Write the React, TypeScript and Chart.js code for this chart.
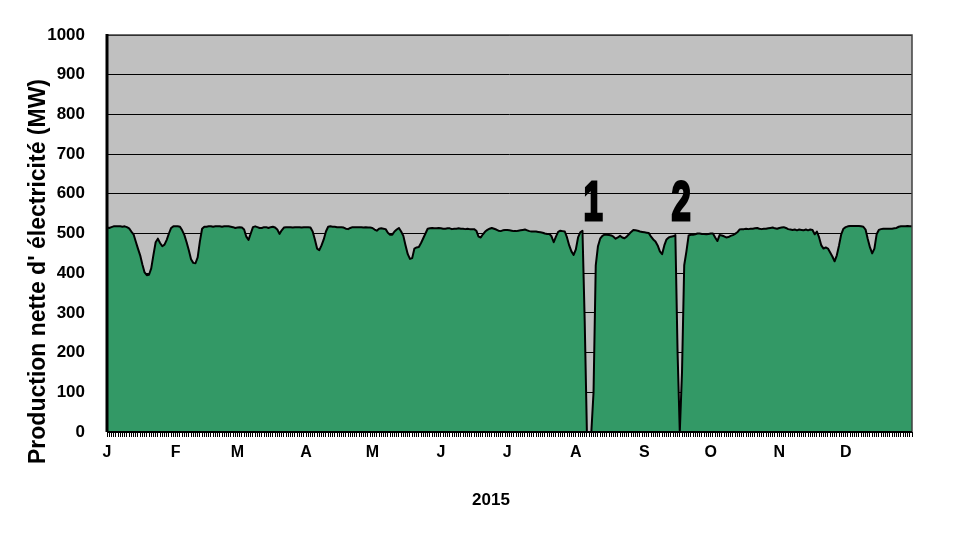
import React, { useEffect, useRef } from 'react';
import { Chart, registerables } from 'chart.js';

Chart.register(...registerables);

// ---- data (daily net electricity production, MW, 2015) ----
const monthLetters = ['J', 'F', 'M', 'A', 'M', 'J', 'J', 'A', 'S', 'O', 'N', 'D'];

const jan = [515, 514, 516, 518, 518, 518, 518, 517, 518, 516, 513, 505, 498, 480, 462, 445, 422, 402, 395, 396, 412, 446, 478, 487, 476, 468, 472, 484, 500, 514, 518];
const feb = [518, 518, 517, 508, 496, 478, 458, 435, 426, 425, 440, 480, 512, 517, 517, 518, 518, 517, 518, 518, 518, 517, 518, 518, 518, 517, 516, 514];
const mar = [515, 516, 515, 510, 492, 484, 500, 516, 518, 516, 514, 514, 516, 516, 514, 516, 517, 515, 510, 499, 508, 515, 516, 516, 516, 515, 516, 516, 516, 515, 516];
const apr = [516, 516, 515, 505, 485, 462, 458, 470, 485, 505, 517, 518, 517, 517, 516, 516, 516, 515, 512, 511, 514, 516, 516, 516, 516, 516, 515, 516, 515, 515];
const may = [514, 510, 507, 512, 513, 512, 511, 502, 497, 497, 505, 510, 514, 505, 494, 470, 448, 436, 438, 462, 465, 466, 476, 488, 500, 512, 513, 514, 513, 513, 514];
const jun = [513, 512, 512, 513, 513, 511, 512, 512, 513, 512, 512, 511, 512, 511, 511, 511, 507, 492, 490, 498, 505, 509, 512, 514, 512, 510, 507, 506, 508, 509];
const jul = [509, 508, 507, 506, 506, 507, 508, 509, 510, 508, 506, 505, 505, 505, 504, 503, 502, 500, 499, 499, 493, 478, 492, 504, 507, 506, 505, 490, 470, 455, 446];
const aug = [460, 490, 503, 507, 280, 0, 0, 0, 100, 420, 468, 487, 494, 497, 497, 496, 495, 492, 487, 490, 494, 490, 488, 492, 498, 504, 509, 508, 507, 505, 504];
const sep = [503, 502, 501, 492, 485, 480, 470, 455, 448, 470, 485, 490, 492, 493, 496, 200, 0, 150, 420, 455, 495, 497, 497, 498, 500, 500, 499, 499, 498, 499];
const oct = [500, 500, 490, 481, 496, 495, 493, 490, 491, 494, 496, 499, 503, 510, 511, 511, 512, 511, 512, 512, 513, 514, 512, 511, 512, 512, 513, 514, 515, 513, 512];
const nov = [514, 515, 516, 514, 511, 510, 509, 510, 508, 510, 509, 508, 510, 508, 510, 509, 498, 505, 490, 470, 462, 465, 462, 452, 442, 430, 445, 470, 498, 512];
const dec = [516, 518, 519, 519, 519, 519, 519, 518, 517, 510, 486, 465, 450, 462, 498, 509, 511, 512, 512, 512, 512, 512, 513, 514, 517, 518, 518, 518, 519, 518, 518];

const months = [jan, feb, mar, apr, may, jun, jul, aug, sep, oct, nov, dec];
const production: number[] = ([] as number[]).concat(...months);

const yMin = 0;
const yMax = 1000;
const yStep = 100;

const outageLabels = ['1', '2'];
const outageLabelDays = [219.8, 259.6];
const outageLabelValues = [530, 530];

const xTitle = '2015';
const yTitle = "Production nette d' électricité (MW)";

// categories: one per day, month letter at first day of each month
const dayLabels: string[] = [];
const monthStart: Record<number, string> = {};
{
  let idx = 0;
  months.forEach((m, mi) => {
    monthStart[idx] = monthLetters[mi];
    for (let d = 0; d < m.length; d++) {
      dayLabels.push(`${mi + 1}-${d + 1}`);
      idx++;
    }
  });
}

const FONT = "Arial, 'Liberation Sans', sans-serif";

const plotPlugin = {
  id: 'plotDecor',
  beforeDraw(chart: any) {
    const { ctx, chartArea } = chart;
    ctx.save();
    ctx.fillStyle = '#FFFFFF';
    ctx.fillRect(0, 0, chart.width, chart.height);
    ctx.fillStyle = '#C0C0C0';
    ctx.fillRect(chartArea.left, chartArea.top, chartArea.right - chartArea.left, chartArea.bottom - chartArea.top);
    ctx.restore();
  },
  afterDatasetsDraw(chart: any) {
    const { ctx, chartArea } = chart;
    const { left, right, top, bottom } = chartArea;
    ctx.save();
    // top / right border
    ctx.strokeStyle = '#404040';
    ctx.lineWidth = 1.5;
    ctx.beginPath();
    ctx.moveTo(left, top);
    ctx.lineTo(right, top);
    ctx.lineTo(right, bottom);
    ctx.stroke();
    // axes
    ctx.strokeStyle = '#000000';
    ctx.lineWidth = 3;
    ctx.beginPath();
    ctx.moveTo(left, top - 1);
    ctx.lineTo(left, bottom);
    ctx.stroke();
    ctx.lineWidth = 2;
    ctx.beginPath();
    ctx.moveTo(left, bottom);
    ctx.lineTo(right, bottom);
    ctx.stroke();

    // outage annotations
    const xs = chart.scales.x;
    const ys = chart.scales.y;
    ctx.fillStyle = '#000000';
    ctx.strokeStyle = '#000000';
    ctx.lineWidth = 3;
    ctx.lineJoin = 'miter';
    ctx.font = `bold 56px ${FONT}`;
    ctx.textAlign = 'center';
    ctx.textBaseline = 'alphabetic';
    outageLabels.forEach((t, i) => {
      const px = xs.getPixelForValue(outageLabelDays[i]);
      const py = ys.getPixelForValue(outageLabelValues[i]);
      ctx.save();
      ctx.translate(px, py - 1.5);
      ctx.scale(0.62, 1);
      ctx.fillText(t, 0, 0);
      ctx.strokeText(t, 0, 0);
      ctx.restore();
    });

    // y axis title
    ctx.save();
    ctx.font = `bold 23px ${FONT}`;
    ctx.textAlign = 'center';
    ctx.textBaseline = 'middle';
    ctx.translate(39, (top + bottom) / 2 + 38);
    ctx.rotate(-Math.PI / 2);
    ctx.fillText(yTitle, 0, 0);
    ctx.restore();

    // x axis title (centred on the page)
    ctx.font = `bold 17px ${FONT}`;
    ctx.textAlign = 'center';
    ctx.textBaseline = 'middle';
    ctx.fillText(xTitle, 491, 500);
    ctx.restore();
  },
};

export default function App() {
  const ref = useRef<HTMLCanvasElement>(null);
  useEffect(() => {
    if (!ref.current) return;
    const chart = new Chart(ref.current, {
      type: 'line',
      data: {
        labels: dayLabels,
        datasets: [
          {
            data: production,
            fill: 'origin',
            backgroundColor: '#339966',
            borderColor: '#000000',
            borderWidth: 2,
            pointRadius: 0,
            tension: 0,
            borderJoinStyle: 'round',
          },
        ],
      },
      options: {
        animation: false,
        responsive: true,
        maintainAspectRatio: false,
        layout: { padding: { left: 0, right: 63, top: 35, bottom: 0 } },
        plugins: {
          legend: { display: false },
          tooltip: { enabled: false },
        },
        scales: {
          x: {
            type: 'category',
            offset: false,
            afterFit: (s: any) => {
              s.height = 118;
            },
            grid: {
              drawOnChartArea: false,
              drawTicks: true,
              tickLength: 5,
              tickColor: '#000000',
              tickWidth: 1,
            },
            border: { display: false },
            ticks: {
              autoSkip: false,
              maxRotation: 0,
              minRotation: 0,
              padding: 6,
              color: '#000000',
              font: { family: FONT, size: 16, weight: 'bold' },
              callback: (_v: any, index: number) => monthStart[index] ?? '',
            },
            title: { display: false },
          },
          y: {
            min: yMin,
            max: yMax,
            afterFit: (s: any) => {
              s.width = 107;
            },
            grid: {
              color: '#000000',
              lineWidth: 1,
              drawTicks: false,
            },
            border: { display: false },
            ticks: {
              stepSize: yStep,
              padding: 22,
              color: '#000000',
              font: { family: FONT, size: 17, weight: 'bold' },
              callback: (v: any) => String(v),
            },
          },
        },
      },
      plugins: [plotPlugin],
    });
    return () => chart.destroy();
  }, []);
  return (
    <div style={{ position: 'fixed', left: 0, top: 0, width: 975, height: 550, background: '#fff' }}>
      <canvas ref={ref} />
    </div>
  );
}
